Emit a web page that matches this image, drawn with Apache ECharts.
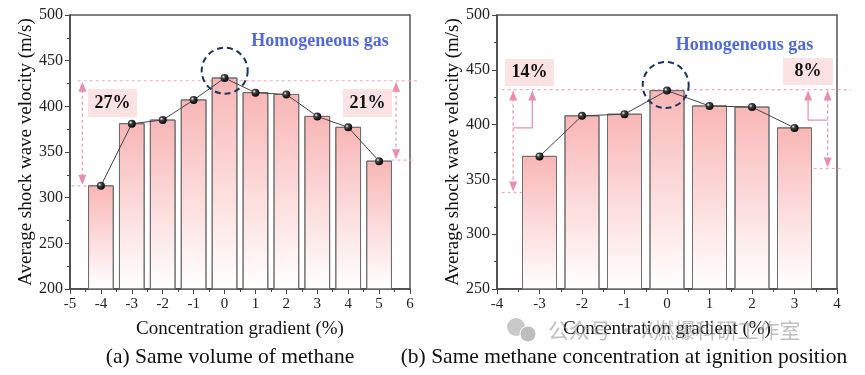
<!DOCTYPE html>
<html><head><meta charset="utf-8">
<script src="https://cdn.jsdelivr.net/npm/echarts@6/dist/echarts.min.js"></script>
<style>html,body{margin:0;padding:0;background:#fff}#c{width:865px;height:375px}</style>
</head><body><div id="c"></div>
<script>
// ---- data ----
const catsA = [-4, -3, -2, -1, 0, 1, 2, 3, 4, 5];
const valsA = [313, 381, 385, 407, 431, 415, 413, 389, 377, 340];
const catsB = [-3, -2, -1, 0, 1, 2, 3];
const valsB = [371, 408, 409.5, 431, 417, 416, 397];
const xRangeA = [-5, 6];
const yRangeA = [200, 500];
const xRangeB = [-4, 4];
const yRangeB = [250, 500];
const pctA = ['27%', '21%'];
const pctB = ['14%', '8%'];
const yName = 'Average shock wave velocity (m/s)';
const xName = 'Concentration gradient (%)';
const captionA = '(a) Same volume of methane';
const captionB = '(b) Same methane concentration at ignition position';
const noteText = 'Homogeneous gas';
const watermark = '公众号 · X燃爆科研工作室';

const SERIF = '"Liberation Serif","DejaVu Serif",serif';
const chart = echarts.init(document.getElementById('c'), null, {renderer: 'canvas'});

function barItem(params, api) {
  const x = api.value(0), y = api.value(1);
  const p = api.coord([x, y]);
  const w = api.size([0.8, 0])[0];
  const cs = params.coordSys;
  const bottom = cs.y + cs.height;
  return {
    type: 'rect',
    shape: {x: p[0] - w / 2, y: p[1], width: w, height: bottom - p[1]},
    style: {
      fill: new echarts.graphic.LinearGradient(0, 0, 0, 1, [
        {offset: 0, color: '#f9b6b6'}, {offset: 1, color: '#ffffff'}]),
      stroke: '#6e6e6e', lineWidth: 1
    }
  };
}
const sphere = new echarts.graphic.RadialGradient(0.35, 0.35, 0.7, [
  {offset: 0, color: '#ffffff'}, {offset: 0.3, color: '#444'}, {offset: 1, color: '#000'}]);

function xAxisCfg(idx, range) {
  return {
    type: 'value', gridIndex: idx, min: range[0], max: range[1], interval: 1,
    name: xName, nameLocation: 'middle', nameGap: 31,
    nameTextStyle: {fontFamily: SERIF, fontSize: 19, color: '#111'},
    axisLine: {show: true, onZero: false, lineStyle: {color: '#444', width: 1.5}},
    axisTick: {show: true, length: 5, lineStyle: {color: '#444'}},
    minorTick: {show: true, splitNumber: 2, length: 3, lineStyle: {color: '#444'}},
    splitLine: {show: false},
    axisLabel: {fontFamily: SERIF, fontSize: 15, color: '#222', margin: 8}
  };
}
function yAxisCfg(idx, range) {
  return {
    type: 'value', gridIndex: idx, min: range[0], max: range[1], interval: 50,
    name: yName, nameLocation: 'middle', nameGap: 34,
    nameTextStyle: {fontFamily: SERIF, fontSize: 19, color: '#111'},
    axisLine: {show: true, onZero: false, lineStyle: {color: '#444', width: 1.5}},
    axisTick: {show: true, length: 5, lineStyle: {color: '#444'}},
    minorTick: {show: true, splitNumber: 2, length: 3, lineStyle: {color: '#444'}},
    splitLine: {show: false},
    axisLabel: {fontFamily: SERIF, fontSize: 16, color: '#222', margin: 7}
  };
}

chart.setOption({
  animation: false,
  backgroundColor: '#fff',
  grid: [
    {left: 70, top: 15, width: 340, height: 274, show: true, borderColor: '#555', borderWidth: 1.5},
    {left: 497, top: 15, width: 340, height: 274, show: true, borderColor: '#555', borderWidth: 1.5}
  ],
  xAxis: [xAxisCfg(0, xRangeA), xAxisCfg(1, xRangeB)],
  yAxis: [yAxisCfg(0, yRangeA), yAxisCfg(1, yRangeB)],
  series: [
    {type: 'custom', xAxisIndex: 0, yAxisIndex: 0, renderItem: barItem, z: 2,
     data: catsA.map((c, i) => [c, valsA[i]])},
    {type: 'line', xAxisIndex: 0, yAxisIndex: 0, z: 4, symbol: 'circle', symbolSize: 8,
     lineStyle: {color: '#444', width: 1}, itemStyle: {color: sphere, borderWidth: 0},
     data: catsA.map((c, i) => [c, valsA[i]])},
    {type: 'custom', xAxisIndex: 1, yAxisIndex: 1, renderItem: barItem, z: 2,
     data: catsB.map((c, i) => [c, valsB[i]])},
    {type: 'line', xAxisIndex: 1, yAxisIndex: 1, z: 4, symbol: 'circle', symbolSize: 8,
     lineStyle: {color: '#444', width: 1}, itemStyle: {color: sphere, borderWidth: 0},
     data: catsB.map((c, i) => [c, valsB[i]])}
  ]
});

// ---- annotations (data coordinates) ----
const DASH = '#f2a9c0', ARROW = '#e98eab';
const g = [];
function px(gi, x, y) { return chart.convertToPixel({gridIndex: gi}, [x, y]); }
function hDash(gi, y, x0, x1) {
  const a = px(gi, x0, y), b = px(gi, x1, y);
  g.push({type: 'line', z: 1, shape: {x1: a[0], y1: a[1], x2: b[0], y2: b[1]},
    style: {stroke: DASH, lineWidth: 1.2, lineDash: [3, 3]}});
}
function headUp(x, y) {
  g.push({type: 'polygon', z: 5, shape: {points: [[x, y], [x - 4, y + 10], [x + 4, y + 10]]}, style: {fill: ARROW}});
}
function headDown(x, y) {
  g.push({type: 'polygon', z: 5, shape: {points: [[x, y], [x - 4, y - 10], [x + 4, y - 10]]}, style: {fill: ARROW}});
}
function vArrow(gi, x, yTop, yBot) {
  const a = px(gi, x, yTop), b = px(gi, x, yBot);
  g.push({type: 'line', z: 5, shape: {x1: a[0], y1: a[1] + 9, x2: b[0], y2: b[1] - 9},
    style: {stroke: ARROW, lineWidth: 1.2, lineDash: [3, 3]}});
  headUp(a[0], a[1] + 1);
  headDown(b[0], b[1] - 1);
}
function bent(gi, xs, ys, xe, yTop) {
  const a = px(gi, xs, ys), b = px(gi, xe, ys), c = px(gi, xe, yTop);
  g.push({type: 'polyline', z: 5, shape: {points: [a, b, [c[0], c[1] + 9]]},
    style: {stroke: ARROW, lineWidth: 1.2, fill: null}});
  headUp(c[0], c[1] + 1);
}
function box(x, y, w, h, txt) {
  g.push({type: 'rect', z: 5, shape: {x: x, y: y, width: w, height: h}, style: {fill: '#fde2e4'}});
  g.push({type: 'text', z: 6, x: x + w / 2, y: y + h / 2,
    style: {text: txt, fill: '#111', font: 'bold 18px ' + SERIF, align: 'center', verticalAlign: 'middle'}});
}
function circle(cx, cy) {
  g.push({type: 'circle', z: 6, shape: {cx: cx, cy: cy, r: 23},
    style: {stroke: '#1d355e', lineWidth: 2, lineDash: [6, 4], fill: null}});
}
function txt(x, y, t, font, color, align) {
  g.push({type: 'text', z: 6, x: x, y: y,
    style: {text: t, fill: color, font: font, align: align || 'center', verticalAlign: 'middle'}});
}

// left chart
hDash(0, 428, -4.75, 6.3);
hDash(0, 313, -4.95, -4.45);
hDash(0, 341, 5.4, 6.1);
vArrow(0, -4.6, 428, 313);
vArrow(0, 5.55, 428, 341);
box(88, 89, 49, 28, pctA[0]);
box(343, 89, 49, 28, pctA[1]);
circle(224.7, 70.7);
txt(320, 41, noteText, 'bold 18px ' + SERIF, '#5069e0');
// right chart
hDash(1, 432, -3.89, 4.32);
hDash(1, 338, -3.89, -3.28);
hDash(1, 360, 3.45, 4.15);
vArrow(1, -3.62, 432, 338);
vArrow(1, 3.78, 432, 360);
bent(1, -3.62, 397, -3.17, 432);
bent(1, 3.78, 404, 3.32, 432);
box(505, 59, 49, 27, pctB[0]);
box(783, 58, 50, 27, pctB[1]);
circle(665.7, 85);
txt(744.5, 45.5, noteText, 'bold 18px ' + SERIF, '#5069e0');
// captions
txt(230, 357, captionA, '21.5px ' + SERIF, '#111');
txt(624, 357, captionB, '21.5px ' + SERIF, '#111');
// watermark
g.push({type: 'circle', z: 0, shape: {cx: 516, cy: 327, r: 9}, style: {fill: '#c8c8c8'}});
g.push({type: 'circle', z: 0, shape: {cx: 528, cy: 334, r: 8}, style: {fill: '#bdbdbd', stroke: '#fff', lineWidth: 1}});
txt(548, 330, watermark, '21px "Noto Sans CJK SC"', 'rgba(150,150,150,0.6)', 'left');

chart.setOption({graphic: {elements: g}});
</script></body></html>
